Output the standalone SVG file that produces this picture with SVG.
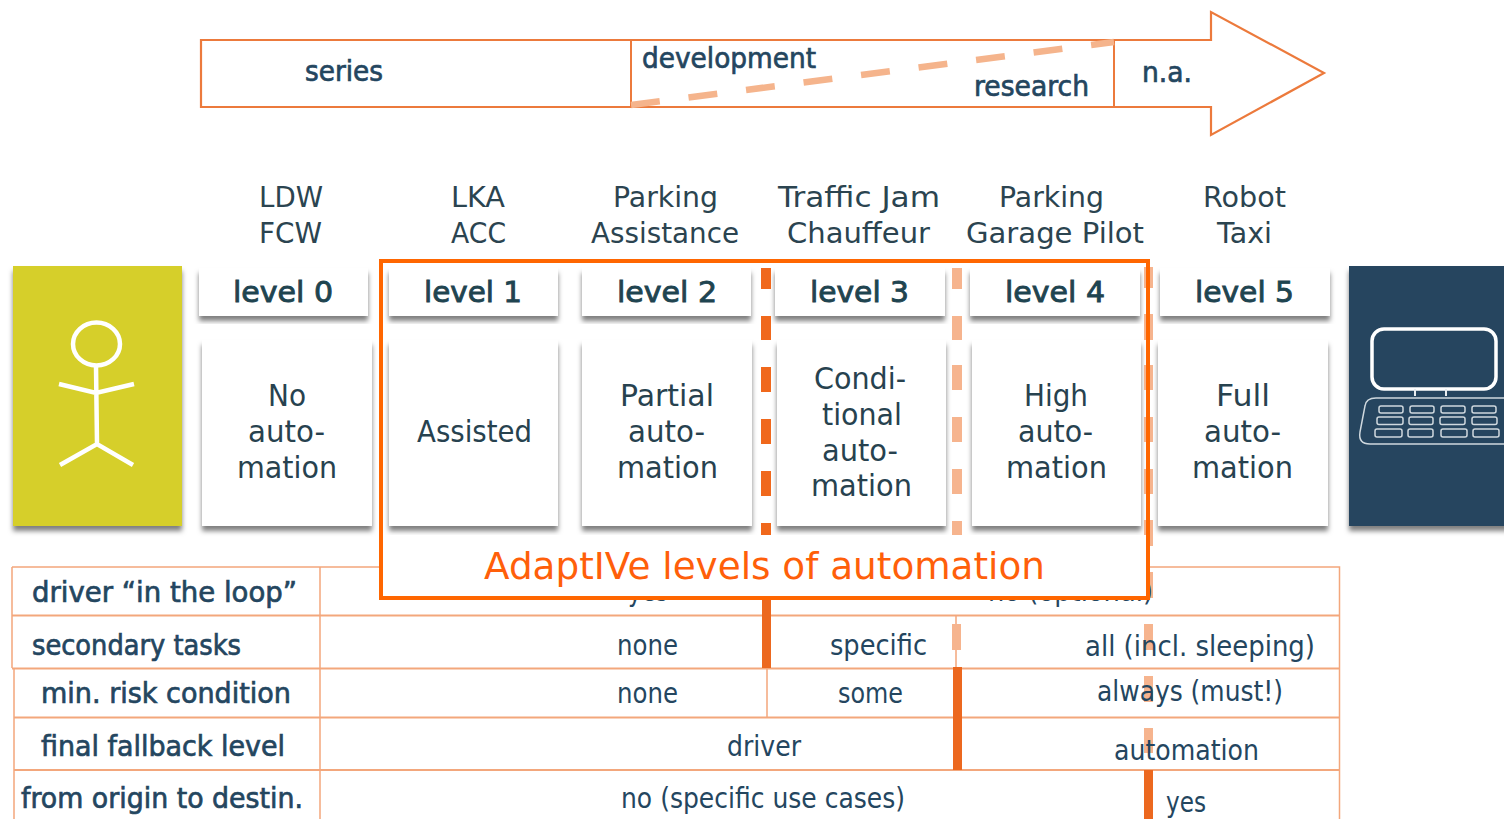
<svg xmlns="http://www.w3.org/2000/svg" width="1504" height="819" viewBox="0 0 1504 819">
<style>
text{font-family:"DejaVu Sans","Liberation Sans",sans-serif;fill:#24465f;font-size:28px;}
.h{font-size:29px;fill:#2b4450}
.lv{font-size:29px;fill:#1f4450;stroke:#1f4450;stroke-width:.9px}
.b{font-size:30px;fill:#27424f}
.r{stroke:#24465f;stroke-width:.7px}
.tl{stroke:#f3a77c;fill:none}
.card{fill:#fff;filter:url(#sh)}
.bar{fill:#ec681f}
.pale{fill:#f6b48e}
.dash{fill:#f0681c}
.k{fill:none;stroke:#cfd8de;stroke-width:1.5}
</style>
<defs>
<filter id="sh" x="-10%" y="-10%" width="120%" height="125%"><feDropShadow dx="0" dy="5" stdDeviation="2.5" flood-color="#000" flood-opacity=".5"/></filter>
</defs>
<rect width="1504" height="819" fill="#fff"/>

<g id="timeline">
<path d="M201 40H1211V12L1324 73L1211 135V107H201Z" fill="#fff" stroke="#ec7a3c" stroke-width="2.2"/>
<path d="M631 40V107M1114 40V107" stroke="#ec7a3c" stroke-width="2" fill="none"/>
<path d="M631 105L1114 42" stroke="#f5b48c" stroke-width="6.5" stroke-dasharray="29 29" fill="none"/>
<text class="r" x="305" y="81" textLength="78" lengthAdjust="spacingAndGlyphs">series</text>
<text class="r" x="642" y="68" textLength="174" lengthAdjust="spacingAndGlyphs">development</text>
<text class="r" x="974" y="96" textLength="115" lengthAdjust="spacingAndGlyphs">research</text>
<text class="r" x="1142" y="82" textLength="50" lengthAdjust="spacingAndGlyphs">n.a.</text>
</g>

<g id="examples">
<text class="h" x="259" y="207" textLength="64" lengthAdjust="spacingAndGlyphs">LDW</text>
<text class="h" x="259" y="243" textLength="63" lengthAdjust="spacingAndGlyphs">FCW</text>
<text class="h" x="451" y="207" textLength="54" lengthAdjust="spacingAndGlyphs">LKA</text>
<text class="h" x="451" y="243" textLength="55" lengthAdjust="spacingAndGlyphs">ACC</text>
<text class="h" x="613" y="207" textLength="105" lengthAdjust="spacingAndGlyphs">Parking</text>
<text class="h" x="591" y="243" textLength="148" lengthAdjust="spacingAndGlyphs">Assistance</text>
<text class="h" x="778" y="207" textLength="162" lengthAdjust="spacingAndGlyphs">Traffic Jam</text>
<text class="h" x="787" y="243" textLength="143" lengthAdjust="spacingAndGlyphs">Chauffeur</text>
<text class="h" x="999" y="207" textLength="105" lengthAdjust="spacingAndGlyphs">Parking</text>
<text class="h" x="966" y="243" textLength="178" lengthAdjust="spacingAndGlyphs">Garage Pilot</text>
<text class="h" x="1203" y="207" textLength="83" lengthAdjust="spacingAndGlyphs">Robot</text>
<text class="h" x="1217" y="243" textLength="55" lengthAdjust="spacingAndGlyphs">Taxi</text>
</g>

<g id="human">
<rect x="13" y="266" width="169" height="260" fill="#d6cf2a" filter="url(#sh)"/>
<g fill="none" stroke="#fff" stroke-width="4.500">
<ellipse cx="96.500" cy="344" rx="23.500" ry="21.500"/>
<path d="M96 366L97 444M59 384L96 393L134 384M60 465L97 444L133 465"/>
</g>
</g>

<g id="machine">
<rect x="1349" y="266" width="160" height="260" fill="#25455e" filter="url(#sh)"/>
<rect x="1372" y="329" width="124" height="60" rx="12" fill="none" stroke="#fff" stroke-width="3.5"/>
<path d="M1415 389V396M1446 389V396" stroke="#e8ecef" stroke-width="2"/>
<path d="M1504 398H1376Q1366 398 1365 406L1360 432Q1358 444 1370 444H1504" class="k"/>
<g class="k">
<rect x="1379" y="406" width="24" height="7" rx="2"/><rect x="1410" y="406" width="24" height="7" rx="2"/><rect x="1441" y="406" width="24" height="7" rx="2"/><rect x="1472" y="406" width="24" height="7" rx="2"/>
<rect x="1377" y="417" width="26" height="7.500" rx="2"/><rect x="1409" y="417" width="24" height="7.500" rx="2"/><rect x="1440" y="417" width="25" height="7.500" rx="2"/><rect x="1472" y="417" width="25" height="7.500" rx="2"/>
<rect x="1375" y="429" width="27" height="8" rx="2"/><rect x="1408" y="429" width="25" height="8" rx="2"/><rect x="1441" y="429" width="26" height="8" rx="2"/><rect x="1473" y="429" width="26" height="8" rx="2"/>
</g>
</g>

<g id="table">
<path class="tl" stroke-width="1.5" d="M12 567H1339.500V819M12 567V668M14 668V819M320 567V819M956 615V668M767 668V717"/>
<path class="tl" stroke-width="2" d="M12 615.500H1339M12 668.500H1339M14 717.500H1339M14 770H1339"/>
<rect class="bar" x="762" y="598" width="9" height="70"/>
<rect class="bar" x="953" y="667" width="9" height="103"/>
<rect class="bar" x="1144" y="770" width="9" height="49"/>
<g class="pale">
<rect x="952" y="624" width="9" height="26"/>
<rect x="1144" y="572" width="9" height="26"/>
<rect x="1144" y="624" width="9" height="26"/>
<rect x="1144" y="676" width="9" height="26"/>
<rect x="1144" y="728" width="9" height="25"/>
</g>
<text class="r" x="32" y="602" textLength="265" lengthAdjust="spacingAndGlyphs">driver “in the loop”</text>
<text class="r" x="32" y="655" textLength="209" lengthAdjust="spacingAndGlyphs">secondary tasks</text>
<text class="r" x="41" y="703" textLength="250" lengthAdjust="spacingAndGlyphs">min. risk condition</text>
<text class="r" x="41" y="756" textLength="244" lengthAdjust="spacingAndGlyphs">final fallback level</text>
<text class="r" x="21" y="808" textLength="282" lengthAdjust="spacingAndGlyphs">from origin to destin.</text>
<text x="628" y="601" textLength="40" lengthAdjust="spacingAndGlyphs">yes</text>
<text x="988" y="601" textLength="165" lengthAdjust="spacingAndGlyphs">no (optional)</text>
<text x="617" y="655" textLength="61" lengthAdjust="spacingAndGlyphs">none</text>
<text x="830" y="655" textLength="97" lengthAdjust="spacingAndGlyphs">specific</text>
<text x="1085" y="656" textLength="230" lengthAdjust="spacingAndGlyphs">all (incl. sleeping)</text>
<text x="617" y="703" textLength="61" lengthAdjust="spacingAndGlyphs">none</text>
<text x="838" y="703" textLength="65" lengthAdjust="spacingAndGlyphs">some</text>
<text x="1097" y="701" textLength="186" lengthAdjust="spacingAndGlyphs">always (must!)</text>
<text x="727" y="756" textLength="74" lengthAdjust="spacingAndGlyphs">driver</text>
<text x="1114" y="760" textLength="145" lengthAdjust="spacingAndGlyphs">automation</text>
<text x="621" y="808" textLength="284" lengthAdjust="spacingAndGlyphs">no (specific use cases)</text>
<text x="1166" y="812" textLength="40" lengthAdjust="spacingAndGlyphs">yes</text>
</g>

<g id="level-0">
<rect class="card" x="199" y="268" width="169" height="48"/>
<rect class="card" x="202" y="340" width="170" height="186"/>
<text class="lv" x="233" y="302" textLength="100" lengthAdjust="spacingAndGlyphs">level 0</text>
<text class="b" x="268" y="406" textLength="38" lengthAdjust="spacingAndGlyphs">No</text>
<text class="b" x="248" y="442" textLength="77" lengthAdjust="spacingAndGlyphs">auto-</text>
<text class="b" x="237" y="478" textLength="100" lengthAdjust="spacingAndGlyphs">mation</text>
</g>
<g id="level-1">
<rect class="card" x="389" y="268" width="169" height="48"/>
<rect class="card" x="389" y="340" width="169" height="186"/>
<text class="lv" x="424" y="302" textLength="98" lengthAdjust="spacingAndGlyphs">level 1</text>
<text class="b" x="417" y="442" textLength="115" lengthAdjust="spacingAndGlyphs">Assisted</text>
</g>
<g id="level-2">
<rect class="card" x="582" y="268" width="169" height="48"/>
<rect class="card" x="582" y="340" width="170" height="186"/>
<text class="lv" x="617" y="302" textLength="100" lengthAdjust="spacingAndGlyphs">level 2</text>
<text class="b" x="620" y="406" textLength="94" lengthAdjust="spacingAndGlyphs">Partial</text>
<text class="b" x="628" y="442" textLength="77" lengthAdjust="spacingAndGlyphs">auto-</text>
<text class="b" x="617" y="478" textLength="101" lengthAdjust="spacingAndGlyphs">mation</text>
</g>
<g id="level-3">
<rect class="card" x="775" y="268" width="170" height="48"/>
<rect class="card" x="777" y="340" width="169" height="186"/>
<text class="lv" x="810" y="302" textLength="99" lengthAdjust="spacingAndGlyphs">level 3</text>
<text class="b" x="814" y="389" textLength="92" lengthAdjust="spacingAndGlyphs">Condi-</text>
<text class="b" x="822" y="425" textLength="80" lengthAdjust="spacingAndGlyphs">tional</text>
<text class="b" x="822" y="461" textLength="76" lengthAdjust="spacingAndGlyphs">auto-</text>
<text class="b" x="811" y="496" textLength="101" lengthAdjust="spacingAndGlyphs">mation</text>
</g>
<g id="level-4">
<rect class="card" x="970" y="268" width="170" height="48"/>
<rect class="card" x="972" y="340" width="169" height="186"/>
<text class="lv" x="1005" y="302" textLength="100" lengthAdjust="spacingAndGlyphs">level 4</text>
<text class="b" x="1024" y="406" textLength="64" lengthAdjust="spacingAndGlyphs">High</text>
<text class="b" x="1018" y="442" textLength="75" lengthAdjust="spacingAndGlyphs">auto-</text>
<text class="b" x="1006" y="478" textLength="101" lengthAdjust="spacingAndGlyphs">mation</text>
</g>
<g id="level-5">
<rect class="card" x="1160" y="268" width="170" height="48"/>
<rect class="card" x="1158" y="340" width="170" height="186"/>
<text class="lv" x="1195" y="302" textLength="99" lengthAdjust="spacingAndGlyphs">level 5</text>
<text class="b" x="1216" y="406" textLength="54" lengthAdjust="spacingAndGlyphs">Full</text>
<text class="b" x="1204" y="442" textLength="77" lengthAdjust="spacingAndGlyphs">auto-</text>
<text class="b" x="1192" y="478" textLength="101" lengthAdjust="spacingAndGlyphs">mation</text>
</g>

<g id="dividers">
<g class="dash">
<rect x="761" y="268" width="10" height="21"/><rect x="761" y="316" width="10" height="24"/><rect x="761" y="367" width="10" height="25"/><rect x="761" y="419" width="10" height="25"/><rect x="761" y="471" width="10" height="25"/><rect x="761" y="523" width="10" height="12"/>
</g>
<g class="pale">
<rect x="952" y="268" width="10" height="21"/><rect x="952" y="316" width="10" height="24"/><rect x="952" y="365" width="10" height="25"/><rect x="952" y="417" width="10" height="25"/><rect x="952" y="469" width="10" height="25"/><rect x="952" y="521" width="10" height="14"/>
<rect x="1144" y="267" width="9" height="21"/><rect x="1144" y="314" width="9" height="26"/><rect x="1144" y="365" width="9" height="25"/><rect x="1144" y="417" width="9" height="25"/><rect x="1144" y="469" width="9" height="25"/><rect x="1144" y="520" width="9" height="26"/>
</g>
</g>

<g id="adaptive-frame">
<rect x="383" y="535" width="764" height="62" fill="#fff"/>
<rect x="381" y="261" width="767" height="337" fill="none" stroke="#ff6600" stroke-width="4"/>
<text x="484" y="579" textLength="561" lengthAdjust="spacingAndGlyphs" style="font-size:38px;fill:#ff5f0a">AdaptIVe levels of automation</text>
</g>
</svg>
